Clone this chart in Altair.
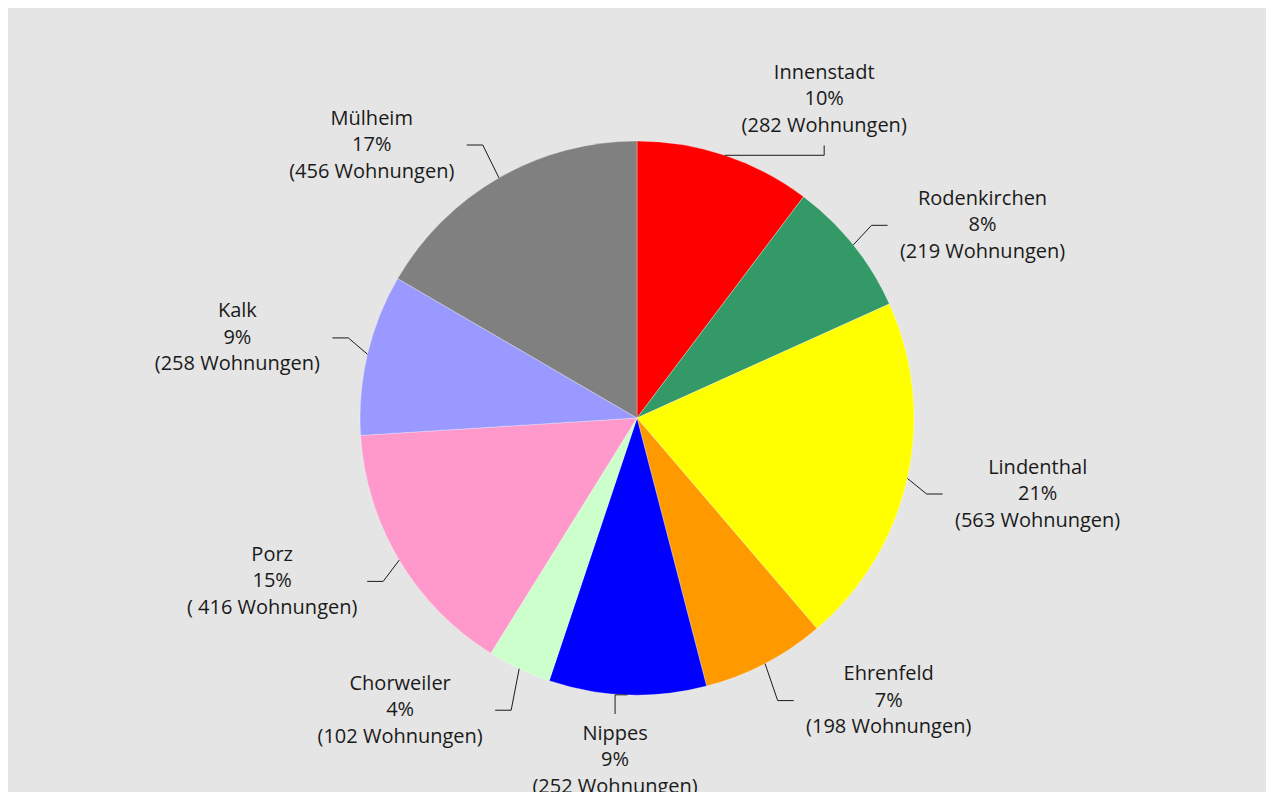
import altair as alt
import pandas as pd

# ---- data ----
districts = ["Innenstadt", "Rodenkirchen", "Lindenthal", "Ehrenfeld", "Nippes",
             "Chorweiler", "Porz", "Kalk", "Mülheim"]
flats = [282, 219, 563, 198, 252, 102, 416, 258, 456]
count_texts = ["(282 Wohnungen)", "(219 Wohnungen)", "(563 Wohnungen)", "(198 Wohnungen)",
               "(252 Wohnungen)", "(102 Wohnungen)", "( 416 Wohnungen)", "(258 Wohnungen)",
               "(456 Wohnungen)"]
colors = ["#ff0000", "#339966", "#ffff00", "#ff9900", "#0000ff",
          "#ccffcc", "#ff99cc", "#9999ff", "#808080"]

df = pd.DataFrame({
    "district": districts,
    "flats": flats,
    "count_text": count_texts,
    "idx": list(range(len(districts))),
})

# ---- layout ----
W, H = 1258, 820
CX, CY = W / 2, H / 2
R = 277            # pie radius
LA, LB = 410, 358  # label ellipse
LY_MAX = 752       # keep labels inside the chart area
HW, HH = 95, 46    # half size of a label block (plus gap)
LH = 26.5          # line height of labels

base = (
    alt.Chart(df)
    .transform_joinaggregate(total="sum(flats)")
    .transform_window(cum="sum(flats)", sort=[alt.SortField("idx")], frame=[None, 0])
    .transform_calculate(
        mid="(datum.cum - datum.flats / 2) / datum.total * 2 * PI",
        pct="format(datum.flats / datum.total, '.0%')",
    )
    .transform_calculate(
        la="datum.mid + 0.28 * sin(2 * datum.mid) * pow(cos(datum.mid), 2)",
        ex=f"{CX} + {R} * sin(datum.mid)",
        ey=f"{CY} - {R} * cos(datum.mid)",
        label="datum.district + '\\n' + datum.pct + '\\n' + datum.count_text",
    )
    .transform_calculate(
        lx=f"{CX} + {LA} * sin(datum.la)",
        ly=f"min({LY_MAX}, {CY} - {LB} * cos(datum.la))",
        side="abs(sin(datum.la)) > 0.55",
        sgn="sin(datum.la) > 0 ? 1 : -1",
    )
    .transform_calculate(
        endx=f"datum.side ? datum.lx - datum.sgn * {HW} : datum.lx",
        endy=f"datum.side ? datum.ly : (cos(datum.la) > 0 ? datum.ly + {HH} : datum.ly - {HH})",
    )
    .transform_calculate(
        elbx="datum.side ? datum.endx - datum.sgn * 16 : datum.lx",
        elby="datum.side ? datum.ly : datum.ey",
    )
)

pie = alt.Chart(df).mark_arc(radius=R, stroke="#ffffff", strokeWidth=0.3).encode(
    theta=alt.Theta("flats:Q", stack=True),
    order=alt.Order("idx:Q"),
    color=alt.Color("district:N", scale=alt.Scale(domain=districts, range=colors), legend=None),
)

lead1 = base.mark_rule(color="#1a1a1a", strokeWidth=1).encode(
    x=alt.X("ex:Q", scale=None, axis=None),
    y=alt.Y("ey:Q", scale=None, axis=None),
    x2="elbx:Q",
    y2="elby:Q",
)
lead2 = base.mark_rule(color="#1a1a1a", strokeWidth=1).encode(
    x=alt.X("elbx:Q", scale=None, axis=None),
    y=alt.Y("elby:Q", scale=None, axis=None),
    x2="endx:Q",
    y2="endy:Q",
)

labels = base.mark_text(
    lineBreak="\n", font="Open Sans", fontSize=20, lineHeight=LH,
    color="#1a1a1a", align="center", baseline="middle", dy=-LH,
).encode(
    x=alt.X("lx:Q", scale=None, axis=None),
    y=alt.Y("ly:Q", scale=None, axis=None),
    text="label:N",
)

chart = (
    alt.layer(pie, lead1, lead2, labels)
    .properties(width=W, height=H, padding=0, background="#e5e5e5")
    .configure_view(stroke=None)
)

chart.save("out.html", embed_options={"renderer": "svg", "actions": False})
